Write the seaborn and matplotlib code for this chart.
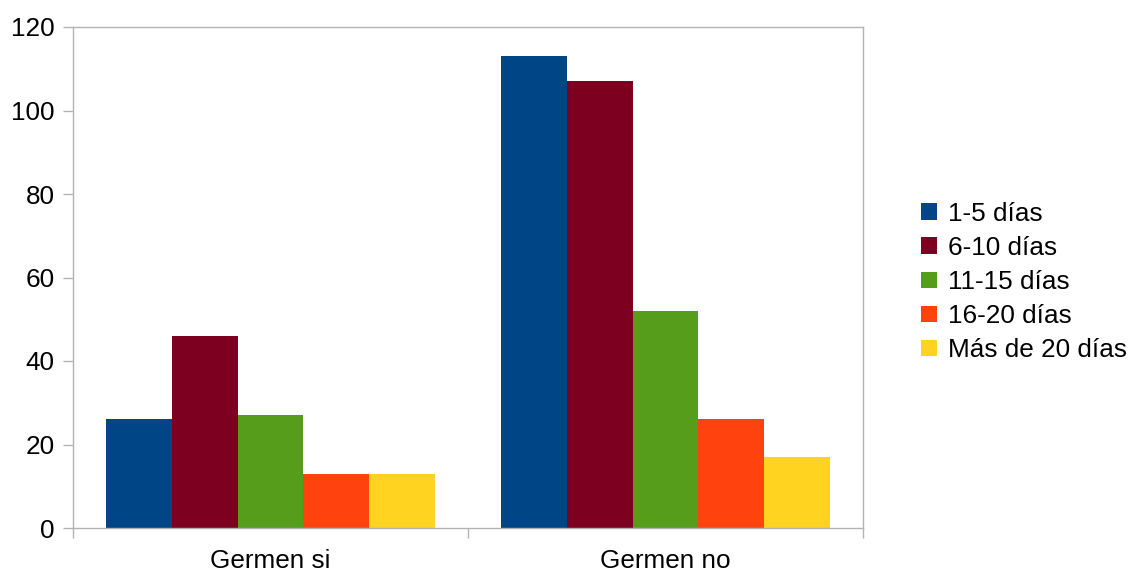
import matplotlib
matplotlib.use("Agg")
import matplotlib.pyplot as plt
import seaborn as sns
import pandas as pd
from matplotlib.patches import Patch

# Categories and series
grupos = ["Germen si", "Germen no"]
duraciones = ["1-5 días", "6-10 días", "11-15 días", "16-20 días", "Más de 20 días"]
valores_si = [26, 46, 27, 13, 13]
valores_no = [113, 107, 52, 26, 17]
colores = ["#004586", "#7e0021", "#579d1c", "#ff420e", "#ffd320"]
yticks = [0, 20, 40, 60, 80, 100, 120]

rows = []
for g, vals in zip(grupos, [valores_si, valores_no]):
    for d, v in zip(duraciones, vals):
        rows.append({"grupo": g, "duracion": d, "valor": v})
df = pd.DataFrame(rows)

sns.set_theme(style="white")
plt.rcParams["font.family"] = ["Liberation Sans", "DejaVu Sans"]
plt.rcParams["text.color"] = "black"
fs = 18.8

fig = plt.figure(figsize=(11.32, 5.75), dpi=100)
ax = fig.add_axes([73 / 1132, 1 - 528 / 575, (863 - 73) / 1132, (528 - 27) / 575])

sns.barplot(data=df, x="grupo", y="valor", hue="duracion", order=grupos,
            hue_order=duraciones, palette=colores, width=0.833, gap=0,
            saturation=1, linewidth=0, errorbar=None, legend=False, ax=ax)

gris = "#b3b3b3"
ax.set_xlim(-0.5, 1.5)
ax.set_ylim(0, 120)
ax.set_yticks(yticks)
ax.set_xlabel("")
ax.set_ylabel("")
for s in ax.spines.values():
    s.set_color(gris)
    s.set_linewidth(1.0)
    s.set_visible(True)

ax.tick_params(axis="y", which="major", left=True, length=7.2, width=1.0,
               color=gris, labelsize=fs, labelcolor="black", pad=6)
ax.tick_params(axis="x", which="major", bottom=False, length=0,
               labelsize=fs, labelcolor="black", pad=15)
ax.set_xticks([-0.5, 0.5, 1.5], minor=True)
ax.tick_params(axis="x", which="minor", bottom=True, length=7.2, width=1.0,
               color=gris)

handles = [Patch(facecolor=c, edgecolor="none", label=d)
           for c, d in zip(colores, duraciones)]
fig.legend(handles=handles, loc="center left",
           bbox_to_anchor=(921 / 1132, 1 - 282 / 575),
           bbox_transform=fig.transFigure, frameon=False, fontsize=fs,
           labelcolor="black",
           handlelength=0.6, handleheight=0.6, handletextpad=0.45,
           labelspacing=0.39, borderpad=0, borderaxespad=0)

fig.savefig("out.png", dpi=100, facecolor="white")
